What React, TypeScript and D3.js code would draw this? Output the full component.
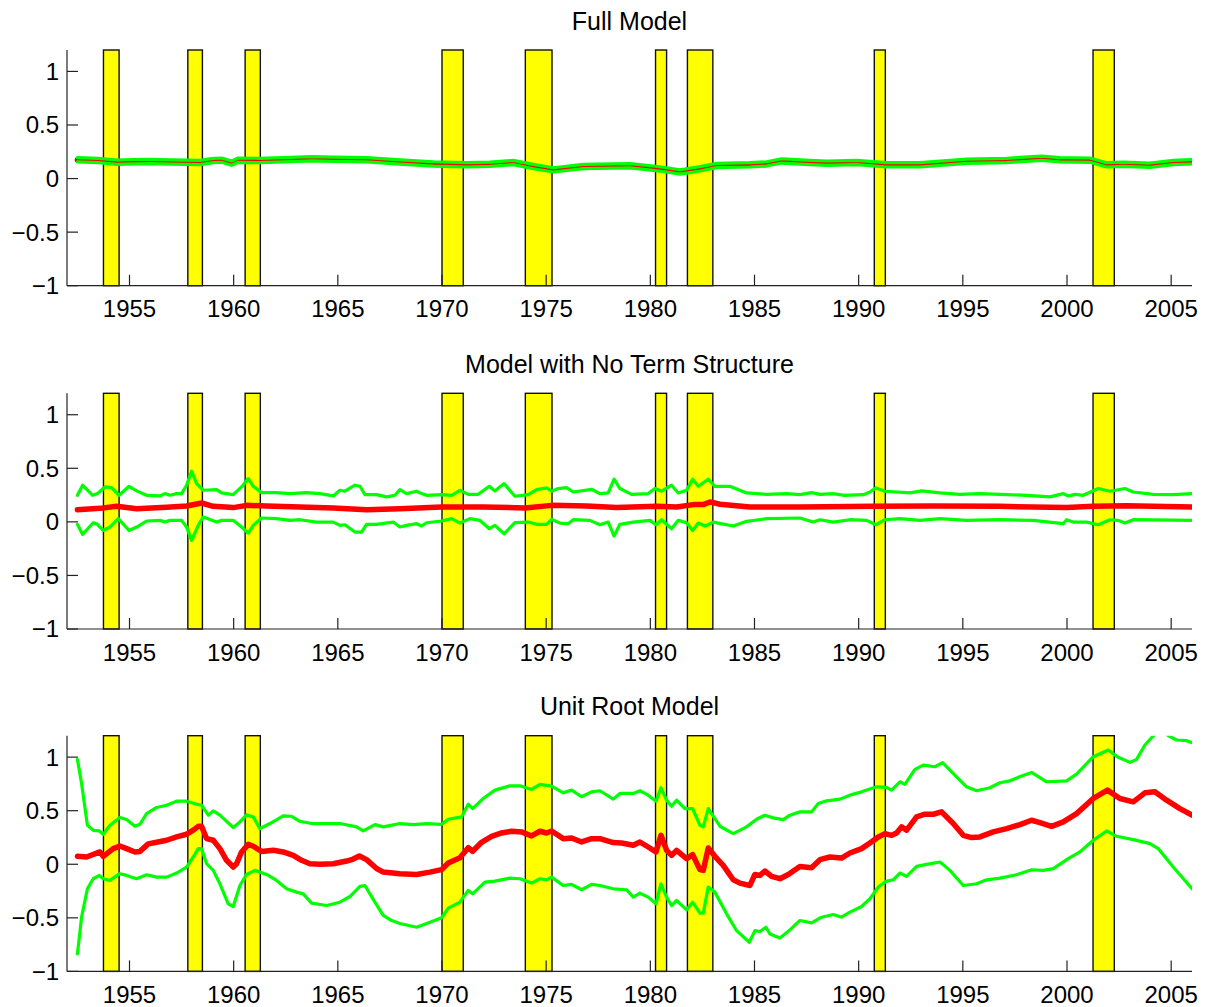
import React from 'react'
import * as d3 from 'd3'

// NBER recessions as plotted (start, end) in decimal years
const recessions: [number, number][] = [
  [1953.75, 1954.5], [1957.8, 1958.5], [1960.55, 1961.28], [1970.0, 1971.02],
  [1974.0, 1975.28], [1980.25, 1980.78], [1981.78, 1983.0], [1990.75, 1991.28],
  [2001.25, 2002.27],
]

const yearTicks = [1955, 1960, 1965, 1970, 1975, 1980, 1985, 1990, 1995, 2000, 2005]
const valueTicks = [-1, -0.5, 0, 0.5, 1]

// Panel 1: Full Model
const fullYears = [
  1952.5, 1953.5, 1954.4, 1955.2, 1956, 1957, 1957.74, 1958.38, 1959.02, 1959.42,
  1959.9, 1960.22, 1961.26, 1962.38, 1963.74, 1964.78, 1966.38, 1967.98, 1969.58, 1971.18,
  1972.3, 1973.42, 1974.38, 1975.34, 1976.78, 1979.02, 1980.14, 1980.78, 1981.42, 1982.38,
  1983.18, 1984.78, 1985.58, 1986.3, 1987.18, 1988.46, 1989.9, 1991.34, 1992.94, 1995.18,
  1997.1, 1998.78, 1999.66, 2001.1, 2001.9, 2002.7, 2003.98, 2005.1, 2006,
]
const fullMean = [
  0.175, 0.168, 0.153, 0.158, 0.159, 0.155, 0.153, 0.15, 0.169, 0.172,
  0.144, 0.172, 0.169, 0.175, 0.185, 0.18, 0.175, 0.155, 0.137, 0.128,
  0.134, 0.15, 0.112, 0.081, 0.112, 0.119, 0.097, 0.081, 0.062, 0.091,
  0.122, 0.128, 0.137, 0.165, 0.155, 0.144, 0.15, 0.128, 0.128, 0.162,
  0.169, 0.19, 0.175, 0.172, 0.128, 0.134, 0.125, 0.15, 0.156,
]
const fullUpper = [
  0.195, 0.188, 0.173, 0.178, 0.179, 0.175, 0.173, 0.170, 0.189, 0.192,
  0.164, 0.192, 0.189, 0.195, 0.205, 0.200, 0.195, 0.175, 0.157, 0.148,
  0.154, 0.170, 0.132, 0.101, 0.132, 0.139, 0.117, 0.101, 0.082, 0.111,
  0.142, 0.148, 0.157, 0.185, 0.175, 0.164, 0.170, 0.148, 0.148, 0.182,
  0.189, 0.210, 0.195, 0.192, 0.148, 0.154, 0.145, 0.170, 0.176,
]
const fullLower = [
  0.155, 0.148, 0.133, 0.138, 0.139, 0.135, 0.133, 0.130, 0.149, 0.152,
  0.124, 0.152, 0.149, 0.155, 0.165, 0.160, 0.155, 0.135, 0.117, 0.108,
  0.114, 0.130, 0.092, 0.061, 0.092, 0.099, 0.077, 0.061, 0.042, 0.071,
  0.102, 0.108, 0.117, 0.145, 0.135, 0.124, 0.130, 0.108, 0.108, 0.142,
  0.149, 0.170, 0.155, 0.152, 0.108, 0.114, 0.105, 0.130, 0.136,
]

// Panel 2: Model with No Term Structure
const ntsMean: [number, number][] = [
  [1952.5, 0.114], [1953.58, 0.126], [1954.38, 0.145], [1955.34, 0.123], [1956.78, 0.136],
  [1957.74, 0.148], [1958.46, 0.176], [1959.02, 0.145], [1959.98, 0.133], [1960.62, 0.154],
  [1961.58, 0.148], [1963.18, 0.139], [1964.78, 0.13], [1966.38, 0.114], [1967.98, 0.123],
  [1969.98, 0.139], [1971.98, 0.139], [1973.98, 0.13], [1975.26, 0.154], [1976.94, 0.148],
  [1978.38, 0.133], [1980.3, 0.145], [1981.26, 0.139], [1982.06, 0.161], [1982.54, 0.161],
  [1982.86, 0.186], [1983.34, 0.164], [1984.78, 0.139], [1987.18, 0.139], [1990.7, 0.145],
  [1993.58, 0.148], [1996.78, 0.145], [1999.98, 0.133], [2001.26, 0.145], [2002.86, 0.151],
  [2006.0, 0.139],
]
const ntsUpper: [number, number][] = [
  [1952.5, 0.248], [1952.75, 0.342], [1953.23, 0.248], [1953.46, 0.264], [1953.82, 0.326],
  [1954.14, 0.32], [1954.5, 0.248], [1954.98, 0.332], [1955.34, 0.289], [1955.82, 0.248],
  [1956.46, 0.242], [1956.7, 0.264], [1956.94, 0.248], [1957.26, 0.264], [1957.5, 0.264],
  [1957.74, 0.342], [1957.98, 0.473], [1958.22, 0.357], [1958.54, 0.295], [1959.18, 0.301],
  [1959.42, 0.27], [1959.98, 0.254], [1960.38, 0.326], [1960.7, 0.404], [1960.94, 0.332],
  [1961.34, 0.273], [1962.06, 0.273], [1962.7, 0.264], [1963.5, 0.273], [1964.14, 0.264],
  [1964.78, 0.242], [1965.1, 0.295], [1965.34, 0.286], [1965.82, 0.342], [1966.06, 0.332],
  [1966.3, 0.254], [1966.86, 0.254], [1967.34, 0.233], [1967.74, 0.248], [1967.98, 0.301],
  [1968.3, 0.264], [1968.78, 0.286], [1969.02, 0.264], [1969.26, 0.248], [1969.98, 0.254],
  [1970.46, 0.248], [1970.86, 0.295], [1971.26, 0.257], [1971.74, 0.257], [1972.27, 0.332],
  [1972.54, 0.289], [1972.98, 0.357], [1973.5, 0.239], [1974.14, 0.254], [1974.54, 0.301],
  [1975.02, 0.317], [1975.26, 0.286], [1975.58, 0.311], [1975.98, 0.32], [1976.3, 0.279],
  [1977.18, 0.304], [1977.58, 0.264], [1977.98, 0.27], [1978.26, 0.398], [1978.54, 0.311],
  [1979.1, 0.257], [1979.9, 0.264], [1980.22, 0.311], [1980.54, 0.286], [1981.02, 0.342],
  [1981.34, 0.27], [1981.74, 0.295], [1982.03, 0.398], [1982.3, 0.332], [1982.78, 0.398],
  [1983.1, 0.332], [1983.82, 0.332], [1984.62, 0.27], [1985.58, 0.257], [1986.54, 0.264],
  [1987.18, 0.254], [1987.74, 0.273], [1988.14, 0.257], [1988.78, 0.264], [1989.26, 0.248],
  [1990.22, 0.254], [1990.54, 0.279], [1990.83, 0.317], [1991.26, 0.286], [1992.46, 0.27],
  [1993.02, 0.289], [1993.9, 0.27], [1994.86, 0.257], [1995.82, 0.264], [1997.1, 0.254],
  [1998.06, 0.248], [1999.18, 0.233], [1999.82, 0.264], [2000.06, 0.242], [2000.38, 0.257],
  [2000.78, 0.248], [2001.5, 0.311], [2002.06, 0.286], [2002.78, 0.311], [2003.18, 0.279],
  [2004.14, 0.257], [2005.1, 0.254], [2006.0, 0.264],
]
const ntsLower: [number, number][] = [
  [1952.5, -0.023], [1952.75, -0.117], [1953.26, -0.008], [1953.46, -0.023], [1953.74, -0.08],
  [1954.06, -0.048], [1954.46, 0.03], [1954.98, -0.08], [1955.34, -0.048], [1955.82, 0.008],
  [1956.46, 0.014], [1956.7, -0.002], [1956.94, 0.014], [1957.5, 0.014], [1957.74, -0.048],
  [1957.98, -0.173], [1958.3, -0.033], [1958.54, 0.045], [1959.18, -0.002], [1959.42, 0.014],
  [1959.98, 0.014], [1960.38, -0.048], [1960.7, -0.105], [1960.94, -0.033], [1961.34, 0.036],
  [1962.06, 0.03], [1962.7, 0.014], [1963.18, 0.02], [1963.98, -0.002], [1964.78, -0.002],
  [1965.1, -0.033], [1965.34, -0.027], [1965.82, -0.095], [1966.14, -0.095], [1966.38, -0.023],
  [1966.86, -0.023], [1967.66, -0.002], [1967.98, -0.048], [1968.3, -0.033], [1968.78, -0.017],
  [1969.02, -0.039], [1969.26, -0.008], [1969.98, 0.008], [1970.46, 0.03], [1970.86, -0.011],
  [1971.34, 0.03], [1971.82, 0.014], [1972.27, -0.064], [1972.54, -0.033], [1972.98, -0.111],
  [1973.5, -0.008], [1974.14, -0.002], [1974.54, -0.023], [1975.02, -0.023], [1975.26, 0.023],
  [1975.66, -0.011], [1976.06, -0.017], [1976.3, 0.02], [1977.1, 0.014], [1977.58, -0.027],
  [1977.98, -0.002], [1978.26, -0.133], [1978.54, -0.023], [1979.18, -0.002], [1979.98, 0.014],
  [1980.27, -0.027], [1980.54, 0.02], [1981.02, -0.064], [1981.34, 0.014], [1981.74, -0.008],
  [1982.03, -0.08], [1982.3, -0.011], [1982.62, -0.039], [1983.02, -0.002], [1983.98, -0.039],
  [1984.62, 0.005], [1985.58, 0.03], [1987.18, 0.036], [1987.82, -0.002], [1988.14, 0.02],
  [1988.78, -0.002], [1989.58, 0.02], [1990.38, 0.014], [1990.83, -0.027], [1991.26, 0.02],
  [1991.98, 0.03], [1992.94, 0.014], [1993.9, 0.03], [1995.18, 0.014], [1996.78, 0.02],
  [1998.38, 0.014], [1999.82, -0.017], [1999.98, 0.02], [2000.3, -0.002], [2000.94, -0.002],
  [2001.5, -0.027], [2002.06, 0.02], [2002.46, 0.014], [2002.78, -0.011], [2003.18, 0.02],
  [2006.0, 0.014],
]

// Panel 3: Unit Root Model
const urMean: [number, number][] = [
  [1952.5, 0.074], [1952.94, 0.068], [1953.58, 0.115], [1953.74, 0.074], [1954.22, 0.146],
  [1954.54, 0.171], [1954.86, 0.146], [1955.26, 0.115], [1955.5, 0.12], [1955.9, 0.19],
  [1956.3, 0.205], [1956.78, 0.224], [1957.26, 0.255], [1957.74, 0.28], [1958.06, 0.318],
  [1958.3, 0.354], [1958.46, 0.354], [1958.7, 0.24], [1959.02, 0.224], [1959.34, 0.146],
  [1959.66, 0.037], [1959.98, -0.026], [1960.14, 0.005], [1960.38, 0.115], [1960.7, 0.186],
  [1960.94, 0.168], [1961.34, 0.12], [1961.9, 0.13], [1962.38, 0.115], [1962.86, 0.083],
  [1963.26, 0.037], [1963.66, 0.005], [1964.14, 0.0], [1964.78, 0.005], [1965.42, 0.03],
  [1965.74, 0.049], [1966.03, 0.077], [1966.38, 0.043], [1966.86, -0.04], [1967.18, -0.073],
  [1967.98, -0.088], [1968.78, -0.095], [1969.42, -0.073], [1969.98, -0.05], [1970.3, 0.012],
  [1970.86, 0.061], [1971.26, 0.155], [1971.47, 0.121], [1971.9, 0.205], [1972.38, 0.261],
  [1972.86, 0.292], [1973.34, 0.308], [1973.82, 0.302], [1974.3, 0.264], [1974.7, 0.308],
  [1975.02, 0.292], [1975.26, 0.311], [1975.82, 0.239], [1976.22, 0.245], [1976.7, 0.208],
  [1977.18, 0.239], [1977.58, 0.239], [1978.22, 0.202], [1978.62, 0.199], [1979.18, 0.177],
  [1979.5, 0.208], [1979.9, 0.161], [1980.27, 0.115], [1980.51, 0.27], [1980.78, 0.13],
  [1981.02, 0.083], [1981.26, 0.13], [1981.74, 0.052], [1982.03, 0.09], [1982.38, -0.05],
  [1982.54, -0.057], [1982.78, 0.152], [1983.1, 0.074], [1983.5, -0.01], [1983.98, -0.145],
  [1984.3, -0.176], [1984.78, -0.198], [1985.02, -0.095], [1985.26, -0.104], [1985.5, -0.063],
  [1985.82, -0.113], [1986.22, -0.135], [1986.62, -0.095], [1987.18, -0.02], [1987.74, -0.032],
  [1988.14, 0.043], [1988.62, 0.068], [1989.18, 0.058], [1989.58, 0.105], [1990.14, 0.146],
  [1990.54, 0.199], [1990.94, 0.255], [1991.26, 0.286], [1991.58, 0.27], [1991.82, 0.292],
  [1992.06, 0.349], [1992.3, 0.318], [1992.78, 0.442], [1993.18, 0.467], [1993.58, 0.467],
  [1993.98, 0.489], [1994.54, 0.38], [1995.02, 0.27], [1995.42, 0.249], [1995.82, 0.255],
  [1996.46, 0.302], [1997.1, 0.333], [1997.74, 0.37], [1998.3, 0.411], [1998.7, 0.389],
  [1999.26, 0.354], [1999.82, 0.395], [2000.46, 0.473], [2001.26, 0.614], [2001.94, 0.692],
  [2002.54, 0.614], [2003.18, 0.583], [2003.74, 0.667], [2004.22, 0.676], [2004.78, 0.598],
  [2005.42, 0.52], [2006.0, 0.458],
]
const urUpper: [number, number][] = [
  [1952.5, 0.979], [1952.7, 0.754], [1952.98, 0.364], [1953.26, 0.317], [1953.55, 0.311],
  [1953.74, 0.28], [1954.06, 0.364], [1954.54, 0.436], [1954.86, 0.417], [1955.26, 0.355],
  [1955.5, 0.373], [1955.82, 0.473], [1956.3, 0.53], [1956.78, 0.551], [1957.26, 0.589],
  [1957.74, 0.589], [1958.22, 0.561], [1958.46, 0.551], [1958.78, 0.458], [1959.02, 0.498],
  [1959.34, 0.458], [1959.98, 0.343], [1960.3, 0.395], [1960.62, 0.461], [1960.94, 0.442],
  [1961.26, 0.333], [1961.74, 0.38], [1962.38, 0.451], [1962.78, 0.448], [1963.18, 0.401],
  [1963.74, 0.38], [1964.46, 0.38], [1965.1, 0.38], [1965.9, 0.349], [1966.22, 0.311],
  [1966.78, 0.37], [1967.18, 0.349], [1967.98, 0.38], [1968.62, 0.37], [1969.26, 0.38],
  [1969.98, 0.373], [1970.3, 0.42], [1970.94, 0.442], [1971.26, 0.561], [1971.47, 0.52],
  [1971.98, 0.614], [1972.54, 0.692], [1973.26, 0.732], [1973.74, 0.732], [1974.3, 0.698],
  [1974.7, 0.745], [1975.26, 0.729], [1975.82, 0.667], [1976.22, 0.692], [1976.7, 0.63],
  [1977.18, 0.676], [1977.58, 0.686], [1978.22, 0.608], [1978.54, 0.661], [1979.18, 0.661],
  [1979.5, 0.686], [1979.9, 0.645], [1980.27, 0.589], [1980.51, 0.714], [1980.78, 0.598],
  [1981.02, 0.542], [1981.26, 0.598], [1981.66, 0.52], [1982.03, 0.52], [1982.38, 0.364],
  [1982.54, 0.349], [1982.78, 0.52], [1983.34, 0.355], [1983.98, 0.286], [1984.62, 0.349],
  [1985.1, 0.42], [1985.5, 0.458], [1985.9, 0.433], [1986.38, 0.417], [1986.7, 0.458],
  [1987.18, 0.489], [1987.74, 0.489], [1988.06, 0.567], [1988.46, 0.592], [1989.1, 0.608],
  [1989.58, 0.645], [1990.14, 0.676], [1990.86, 0.723], [1991.34, 0.717], [1991.58, 0.692],
  [1991.98, 0.77], [1992.22, 0.745], [1992.7, 0.885], [1993.1, 0.926], [1993.66, 0.91],
  [1994.03, 0.948], [1994.7, 0.816], [1995.18, 0.723], [1995.66, 0.686], [1996.3, 0.714],
  [1996.78, 0.761], [1997.26, 0.779], [1997.82, 0.823], [1998.3, 0.857], [1999.02, 0.77],
  [1999.98, 0.779], [2000.46, 0.842], [2001.26, 1.004], [2001.98, 1.066], [2002.46, 0.998],
  [2003.02, 0.951], [2003.34, 0.979], [2003.74, 1.113], [2004.1, 1.19], [2004.5, 1.27],
  [2004.86, 1.2], [2005.26, 1.16], [2005.74, 1.154], [2006.0, 1.135],
]
const urLower: [number, number][] = [
  [1952.5, -0.837], [1952.7, -0.494], [1952.98, -0.229], [1953.26, -0.135], [1953.55, -0.104],
  [1953.74, -0.135], [1954.06, -0.151], [1954.54, -0.088], [1954.86, -0.104], [1955.34, -0.135],
  [1955.82, -0.098], [1956.3, -0.12], [1956.78, -0.12], [1957.26, -0.082], [1957.74, -0.026],
  [1958.06, 0.068], [1958.3, 0.146], [1958.46, 0.146], [1958.7, 0.005], [1959.02, -0.057],
  [1959.34, -0.182], [1959.74, -0.369], [1959.98, -0.394], [1960.3, -0.198], [1960.62, -0.095],
  [1961.02, -0.057], [1961.58, -0.095], [1962.06, -0.151], [1962.54, -0.229], [1963.02, -0.26],
  [1963.34, -0.276], [1963.74, -0.363], [1964.46, -0.385], [1965.1, -0.354], [1965.58, -0.301],
  [1966.06, -0.207], [1966.3, -0.198], [1966.78, -0.354], [1967.18, -0.478], [1967.58, -0.525],
  [1967.98, -0.553], [1968.78, -0.588], [1969.42, -0.541], [1969.98, -0.5], [1970.3, -0.41],
  [1970.86, -0.354], [1971.26, -0.244], [1971.47, -0.276], [1972.06, -0.166], [1972.54, -0.157],
  [1973.26, -0.129], [1973.74, -0.135], [1974.3, -0.176], [1974.7, -0.135], [1975.02, -0.145],
  [1975.26, -0.12], [1975.82, -0.198], [1976.22, -0.188], [1976.7, -0.238], [1977.18, -0.188],
  [1977.58, -0.198], [1978.22, -0.229], [1978.86, -0.238], [1979.18, -0.307], [1979.5, -0.27],
  [1979.9, -0.307], [1980.27, -0.369], [1980.51, -0.182], [1980.78, -0.307], [1981.02, -0.385],
  [1981.26, -0.338], [1981.74, -0.425], [1982.03, -0.354], [1982.38, -0.456], [1982.54, -0.456],
  [1982.78, -0.213], [1983.1, -0.26], [1983.66, -0.463], [1984.14, -0.619], [1984.75, -0.728],
  [1985.02, -0.619], [1985.26, -0.628], [1985.55, -0.588], [1985.74, -0.65], [1986.22, -0.688],
  [1986.7, -0.613], [1987.18, -0.525], [1987.74, -0.547], [1988.22, -0.494], [1988.78, -0.469],
  [1989.18, -0.494], [1989.58, -0.447], [1990.14, -0.394], [1990.54, -0.322], [1990.94, -0.213],
  [1991.31, -0.16], [1991.66, -0.145], [1991.98, -0.082], [1992.3, -0.113], [1992.78, -0.02],
  [1993.26, -0.001], [1993.9, 0.021], [1994.38, -0.057], [1995.02, -0.198], [1995.66, -0.182],
  [1996.14, -0.145], [1996.78, -0.129], [1997.58, -0.098], [1998.3, -0.051], [1998.86, -0.057],
  [1999.34, -0.041], [2000.06, 0.052], [2000.62, 0.115], [2001.26, 0.224], [2001.9, 0.311],
  [2002.38, 0.261], [2003.18, 0.23], [2003.98, 0.193], [2004.38, 0.146], [2005.1, -0.026],
  [2006.0, -0.229],
]

const zip = (xs: number[], ys: number[]): [number, number][] => xs.map((x, i) => [x, ys[i]])

const panels = [
  { title: 'Full Model', mean: zip(fullYears, fullMean), upper: zip(fullYears, fullUpper), lower: zip(fullYears, fullLower) },
  { title: 'Model with No Term Structure', mean: ntsMean, upper: ntsUpper, lower: ntsLower },
  { title: 'Unit Root Model', mean: urMean, upper: urUpper, lower: urLower },
]

const W = 1212
const H = 1007
const left = 67
const right = 1192
const panelTops = [50, 393.3, 735.7]
const panelH = 235.7
const font = '"Liberation Sans", Arial, Helvetica, sans-serif'

const x = d3.scaleLinear().domain([1952, 2006]).range([left, right])

function Panel({ idx }: { idx: number }) {
  const p = panels[idx]
  const top = panelTops[idx]
  const bottom = top + panelH
  const y = d3.scaleLinear().domain([-1, 1.2]).range([bottom, top])
  const line = d3.line<[number, number]>().x(d => x(d[0])).y(d => y(d[1]))
  const clipId = `clip-${idx}`
  return (
    <g>
      <defs>
        <clipPath id={clipId}>
          <rect x={left} y={top} width={right - left} height={panelH} />
        </clipPath>
      </defs>
      <text x={(left + right) / 2} y={top - 20.5} textAnchor="middle" fontSize={25} fontFamily={font}>
        {p.title}
      </text>
      {recessions.map(([a, b], i) => (
        <rect key={i} x={x(a)} y={top} width={x(b) - x(a)} height={panelH}
          fill="#ffff00" stroke="#111" strokeWidth={1.4} />
      ))}
      {/* axes */}
      <line x1={left} x2={left} y1={top} y2={bottom} stroke="#222" strokeWidth={1.2} />
      <line x1={left} x2={right} y1={bottom} y2={bottom} stroke="#222" strokeWidth={1.2} />
      {valueTicks.map(v => (
        <g key={v}>
          <line x1={left} x2={left + 11} y1={y(v)} y2={y(v)} stroke="#222" strokeWidth={1.2} />
          <text x={left - 8} y={y(v)} dy="0.35em" textAnchor="end" fontSize={24} fontFamily={font}>
            {v < 0 ? '\u2212' + String(-v) : String(v)}
          </text>
        </g>
      ))}
      {yearTicks.map(t => (
        <g key={t}>
          <line x1={x(t)} x2={x(t)} y1={bottom} y2={bottom - 11} stroke="#222" strokeWidth={1.2} />
          <text x={x(t)} y={bottom + 31.5} textAnchor="middle" fontSize={24} fontFamily={font}>{t}</text>
        </g>
      ))}
      <g clipPath={`url(#${clipId})`} fill="none" strokeLinejoin="round" strokeLinecap="round">
        <path d={line(p.mean) || ''} stroke="#ff0000" strokeWidth={5.5} />
        <path d={line(p.upper) || ''} stroke="#00ff00" strokeWidth={3.2} />
        <path d={line(p.lower) || ''} stroke="#00ff00" strokeWidth={3.2} />
      </g>
    </g>
  )
}

export default function App() {
  return (
    <svg width={W} height={H} style={{ position: 'absolute', left: 0, top: 0, background: '#fff' }}>
      {panels.map((_, i) => <Panel key={i} idx={i} />)}
    </svg>
  )
}
